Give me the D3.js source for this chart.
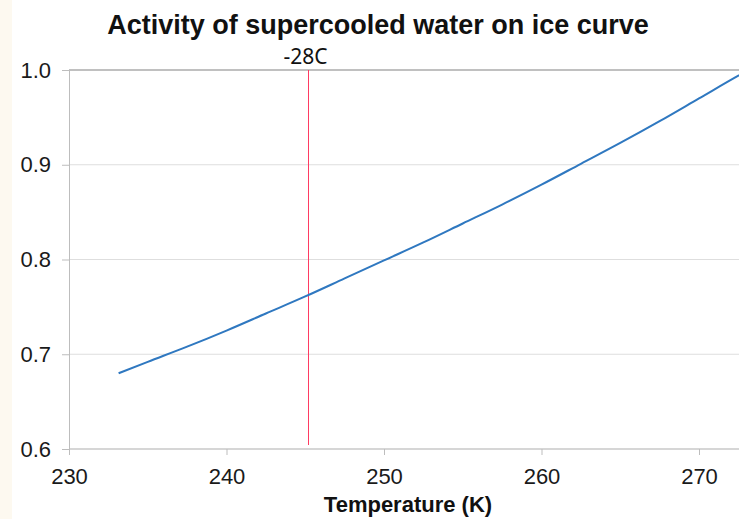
<!DOCTYPE html>
<html>
<head>
<meta charset="utf-8">
<script src="https://cdn.jsdelivr.net/npm/d3@7"></script>
<style>
  body { margin: 0; background: #fff; }
  svg { display: block; }
</style>
</head>
<body>
<div class="chart"></div>
<script>
// values
const temps = [233.15, 235, 237.5, 240, 242.5, 245, 247.5, 250, 252.5, 255, 257.5, 260, 262.5, 265, 267.5, 270, 272.5, 273.15]
const activity = [0.680, 0.692, 0.708, 0.725, 0.743, 0.761, 0.780, 0.799, 0.818, 0.838, 0.858, 0.879, 0.901, 0.923, 0.946, 0.970, 0.994, 1.0]
const xTicks = [230, 240, 250, 260, 270]
const yTicks = [0.6, 0.7, 0.8, 0.9, 1.0]
const markerT = 245.15
const markerLabel = '-28C'

const width = 739
const height = 519

const svg = d3.select('.chart')
    .append('svg')
    .attr('width', width)
    .attr('height', height)

// faint cream strip on the left edge
svg.append('rect')
    .attr('x', 0).attr('y', 0)
    .attr('width', 12).attr('height', height)
    .attr('fill', '#fdf9f0')

const xScale = d3.scaleLinear()
    .domain([230, 270])
    .range([69, 699])

const yScale = d3.scaleLinear()
    .domain([0.6, 1.0])
    .range([449, 70])

const plotRight = width

// gridlines
svg.selectAll('.grid')
    .data(yTicks)
    .enter()
    .append('line')
    .attr('x1', xScale(230))
    .attr('x2', plotRight)
    .attr('y1', d => yScale(d))
    .attr('y2', d => yScale(d))
    .attr('stroke', d => d === 1.0 ? '#ababab' : '#dedede')
    .attr('stroke-width', d => d === 1.0 ? 1.6 : 1)

// y axis
const yAxis = d3.axisLeft(yScale)
    .tickValues(yTicks)
    .tickFormat(d3.format('.1f'))
    .tickSize(7)
    .tickPadding(11)

const gy = svg.append('g')
    .attr('transform', `translate(${xScale(230)},0)`)
    .call(yAxis)
gy.select('.domain').attr('stroke', '#bdbdbd')
gy.selectAll('.tick line').attr('stroke', '#bdbdbd')
gy.selectAll('.tick text')
    .attr('font-family', 'Liberation Sans, Arial, sans-serif')
    .attr('font-size', 22)
    .attr('fill', '#1a1a1a')

// x axis
const xAxis = d3.axisBottom(xScale)
    .tickValues(xTicks)
    .tickFormat(d3.format('d'))
    .tickSize(6)
    .tickSizeOuter(0)
    .tickPadding(13)

const gx = svg.append('g')
    .attr('transform', `translate(0,${yScale(0.6)})`)
    .call(xAxis)
gx.select('.domain')
    .attr('d', `M${xScale(230)},0H${plotRight}`)
    .attr('stroke', '#bdbdbd')
gx.selectAll('.tick line').attr('stroke', '#bdbdbd')
gx.selectAll('.tick text')
    .attr('font-family', 'Liberation Sans, Arial, sans-serif')
    .attr('font-size', 22)
    .attr('fill', '#1a1a1a')

// red marker at -28C
const mx = Math.round(xScale(markerT)) + 0.5
svg.append('line')
    .attr('x1', mx)
    .attr('x2', mx)
    .attr('y1', yScale(1.0))
    .attr('y2', yScale(0.6) - 4)
    .attr('stroke', '#ff3b62')
    .attr('stroke-width', 1)

svg.append('text')
    .attr('x', mx - 3)
    .attr('y', 64)
    .attr('text-anchor', 'middle')
    .attr('font-family', 'Noto Sans, Open Sans, sans-serif')
    .attr('font-size', 21)
    .attr('fill', '#111')
    .text(markerLabel)

// the curve
const line = d3.line()
    .x((d, i) => xScale(temps[i]))
    .y(d => yScale(d))
    .curve(d3.curveMonotoneX)

svg.append('path')
    .datum(activity)
    .attr('fill', 'none')
    .attr('stroke', '#2f78c0')
    .attr('stroke-width', 2)
    .attr('d', line)

// titles
svg.append('text')
    .attr('x', 378)
    .attr('y', 34)
    .attr('text-anchor', 'middle')
    .attr('font-family', 'Liberation Sans, Arial, sans-serif')
    .attr('font-weight', 'bold')
    .attr('font-size', 27)
    .attr('fill', '#111')
    .text('Activity of supercooled water on ice curve')

svg.append('text')
    .attr('x', 408)
    .attr('y', 512)
    .attr('text-anchor', 'middle')
    .attr('font-family', 'Liberation Sans, Arial, sans-serif')
    .attr('font-weight', 'bold')
    .attr('font-size', 22)
    .attr('fill', '#111')
    .text('Temperature (K)')
</script>
</body>
</html>
